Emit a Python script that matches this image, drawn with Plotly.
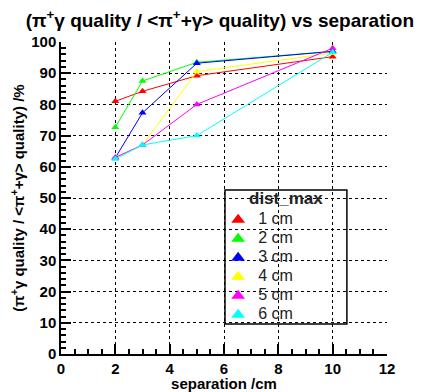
import plotly.graph_objects as go

separation = [2, 3, 5, 10]
series_names = ["1 cm", "2 cm", "3 cm", "4 cm", "5 cm", "6 cm"]
series_colors = ["#ff0000", "#00ff00", "#0000ff", "#ffff00", "#ff00ff", "#00ffff"]
q_1cm = [81.0, 84.2, 89.2, 95.3]
q_2cm = [72.7, 87.5, 93.5, 97.0]
q_3cm = [62.9, 77.3, 93.2, 97.0]
q_4cm = [63.0, 67.0, 90.5, 96.5]
q_5cm = [63.0, 67.0, 80.0, 98.0]
q_6cm = [62.5, 67.0, 70.0, 96.7]
series_values = [q_1cm, q_2cm, q_3cm, q_4cm, q_5cm, q_6cm]
legend_title = "dist_max"

FONT = "Liberation Sans, Arial, sans-serif"
# page body has an 8px margin: figure is sized so plot area lands at x 61..387, y 42..354
W, H = 417, 384
fig = go.Figure()
for name, col, vals in zip(series_names, series_colors, series_values):
    fig.add_trace(go.Scatter(x=separation, y=vals, mode="lines+markers",
                             line=dict(color=col, width=1),
                             marker=dict(symbol="triangle-up", size=7, color=col),
                             showlegend=False))
for name, col, vals in zip(series_names, series_colors, series_values):
    fig.add_trace(go.Scatter(x=[None], y=[None], mode="markers",
                             name="<span style='font-size:16px'>" + name + "</span>",
                             marker=dict(symbol="triangle-up", size=5, color=col)))

axis_common = dict(showline=True, linecolor="black", linewidth=1.5,
                   showgrid=True, gridcolor="black", griddash="dot", gridwidth=1,
                   ticks="inside", ticklen=10, tickcolor="black", tickwidth=1.5,
                   tickfont=dict(family=FONT, size=15, color="black", weight="bold"),
                   zeroline=False, automargin=False, layer="above traces")

fig.update_layout(
    width=W, height=H,
    margin=dict(l=53, r=38, t=34, b=38),
    paper_bgcolor="white", plot_bgcolor="white",
    font=dict(family=FONT, color="black"),
    title=dict(text="<b>(π<sup>+</sup>γ quality / &lt;π<sup>+</sup>+γ&gt; quality) vs separation</b>",
               x=0.508, xanchor="center", y=1 - 12 / H, yanchor="middle",
               font=dict(family=FONT, size=19, color="black")),
    xaxis=dict(range=[0, 12], dtick=2, tick0=0,
               minor=dict(dtick=0.5, ticklen=5, ticks="inside", tickcolor="black",
                          tickwidth=1.5, showgrid=False),
               title=dict(text="<b>separation /cm</b>", font=dict(family=FONT, size=15), standoff=3),
               **axis_common),
    yaxis=dict(range=[0, 100], dtick=10, tick0=0,
               minor=dict(dtick=2, ticklen=5, ticks="inside", tickcolor="black",
                          tickwidth=1.5, showgrid=False),
               title=dict(text="<b>(π<sup>+</sup>γ quality / &lt;π<sup>+</sup>+γ&gt; quality) /%</b>",
                          font=dict(family=FONT, size=15), standoff=4),
               **axis_common),
    legend=dict(x=0.482, y=0.477, xanchor="left", yanchor="top",
                bgcolor="rgba(0,0,0,0)", borderwidth=0,
                font=dict(family=FONT, size=12, color="#222222"),
                tracegroupgap=0, itemsizing="constant"),
    shapes=[dict(type="rect", xref="paper", yref="paper",
                 x0=0.503, x1=0.877, y0=0.096, y1=0.526,
                 line=dict(color="black", width=1.5), fillcolor="rgba(0,0,0,0)", layer="above")],
    annotations=[dict(text="<b>" + legend_title + "</b>", xref="paper", yref="paper",
                      x=0.69, y=0.497, xanchor="center", yanchor="middle", showarrow=False,
                      font=dict(family=FONT, size=17, color="#222222"))],
)

fig.write_html("out.html")
